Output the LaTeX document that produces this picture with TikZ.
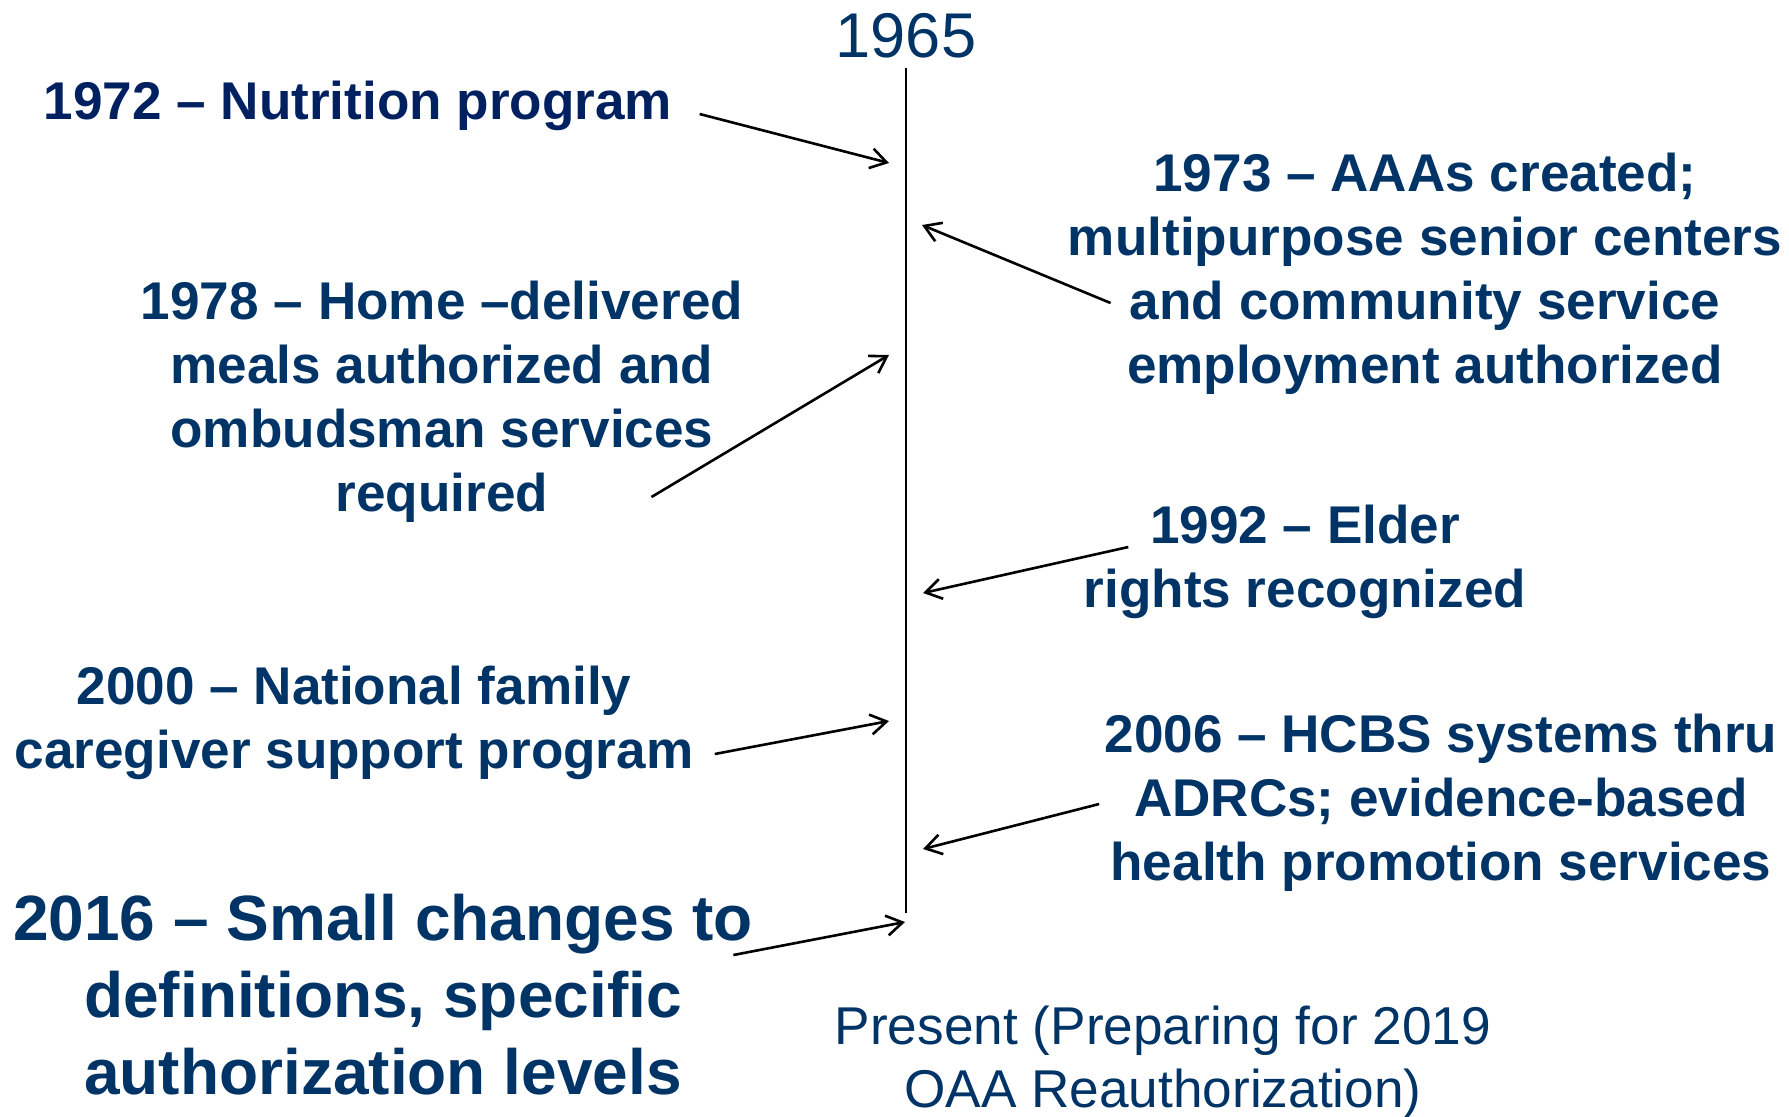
\documentclass[tikz,border=0pt]{standalone}
\usepackage{fontspec}
\setmainfont{Liberation Sans}
\usepackage{tikz}
\usetikzlibrary{arrows.meta,positioning}
\usetikzlibrary{calc}
\definecolor{oaablue}{HTML}{003366}
\definecolor{oaanavy}{HTML}{002060}
\tikzset{
	%Define standard arrow tip
	>={Straight Barb[length=8pt,width=10pt]},
	%Define style for the event texts
	evt/.style={
		align=center,
		inner sep=0pt,
		text=oaablue,
		font=\bfseries\fontsize{26.55}{32}\selectfont},
	bigevt/.style={
		evt,
		font=\bfseries\fontsize{32}{38.5}\selectfont},
	%Define style for the plain labels
	yearlbl/.style={
		align=center,
		inner sep=0pt,
		text=oaablue,
		font=\fontsize{31.6}{37}\selectfont},
	% Define arrow style
	pil/.style={
		->,
		line width=1.3pt}
}
\begin{document}
\begin{tikzpicture}[x=0.5pt,y=-0.5pt]
	\useasboundingbox (0,0) rectangle (1789,1116);
	% timeline
	\coordinate (tltop) at (906,68);
	\coordinate (tlbot) at (906,913);
	\draw[line width=1pt] (tltop) -- (tlbot);
	\node[yearlbl, anchor=south, above=4.5pt of tltop] (y1965) {1965};
	% arrow heads on the timeline
	\coordinate (a1972) at (889,163);
	\coordinate (a1973) at (922,225);
	\coordinate (a1978) at (889,355);
	\coordinate (a1992) at (923,593);
	\coordinate (a2000) at (889,721);
	\coordinate (a2006) at (923,849);
	\coordinate (a2016) at (905,922);
	% left side
	\node[evt, text=oaanavy] (n1972) at (358,106) {1972 -- Nutrition program};
	\node[evt] (n1978) at (442,402) {1978 -- Home --delivered\\meals authorized and\\ombudsman services\\required};
	\node[evt] (n2000) at (354,723) {2000 -- National family\\caregiver support program};
	\node[bigevt] (n2016) at (383,995) {2016 -- Small changes to\\definitions, specific\\authorization levels};
	% right side
	\node[evt] (n1973) at (1425,274) {1973 -- AAAs created;\\multipurpose senior centers\\and community service\\employment authorized};
	\node[evt] (n1992) at (1305,562) {1992 -- Elder\\rights recognized};
	\node[evt] (n2006) at (1441,803) {2006 -- HCBS systems thru\\ADRCs; evidence-based\\health promotion services};
	\node[yearlbl, font=\fontsize{26.6}{31.5}\selectfont] (now) at (1163,1062) {Present (Preparing for 2019\\OAA Reauthorization)};
	% arrows
	\draw[pil] ($(n1972.east)+(27,8)$) -- (a1972);
	\draw[pil] ($(n1973.west)+(43,29)$) -- (a1973);
	\draw[pil] ($(n1978.east)+(-92,95)$) -- (a1978);
	\draw[pil] ($(n1992.west)+(45,-15)$) -- (a1992);
	\draw[pil] ($(n2000.east)+(21,31)$) -- (a2000);
	\draw[pil] ($(n2006.west)+(-5,1)$) -- (a2006);
	\draw[pil] ($(n2016.east)+(-20,-40)$) -- (a2016);
\end{tikzpicture}
\end{document}
